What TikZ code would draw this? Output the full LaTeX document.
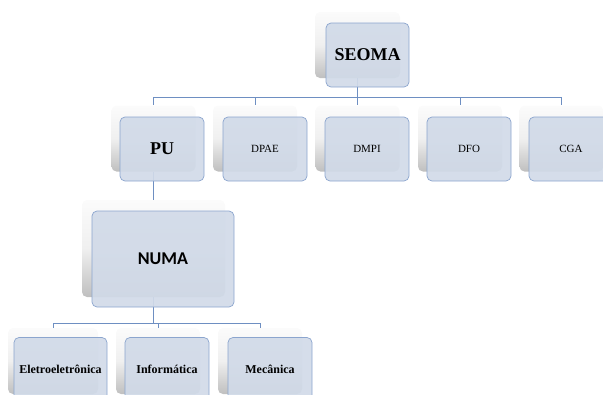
\documentclass[tikz,border=0pt]{standalone}
\usepackage{fontspec}
\setmainfont{Liberation Serif}
\newfontfamily\calfont{Carlito}
\definecolor{boxfill}{HTML}{D1DAE8}
\definecolor{boxline}{HTML}{8BA5CE}
\definecolor{linkcol}{HTML}{6E8FC2}
\tikzset{
  backbox/.style={rounded corners=5pt, inner sep=0pt, top color=gray!3, bottom color=gray!50,
    middle color=gray!12, draw=none},
  frontbox/.style={rounded corners=5pt, inner sep=0pt, fill=boxfill, fill opacity=0.92,
    text opacity=1, draw=boxline, line width=0.7pt},
  conn/.style={draw=linkcol, line width=0.8pt},
  bigl/.style={font=\fontsize{18}{20}\selectfont\bfseries},
  smalll/.style={font=\fontsize{11}{13}\selectfont},
  leafl/.style={font=\fontsize{12}{14}\selectfont\bfseries},
}
\begin{document}
\begin{tikzpicture}[x=1pt,y=-1pt]
\useasboundingbox (0,0) rectangle (603,394);
\clip (0,0) rectangle (603,394);

% bus levels
\coordinate (busA) at (0,97.5);
\coordinate (busB) at (0,323);

% shadow (back) boxes, used as connector anchors
\node[backbox, minimum width=85pt, minimum height=66pt] (seomaB) at (357.5,45) {};
\node[backbox, minimum width=84pt, minimum height=66pt] (puB) at (153.5,138.5) {};
\node[backbox, minimum width=84pt, minimum height=66pt] (dpaeB) at (255,138.5) {};
\node[backbox, minimum width=84pt, minimum height=66pt] (dmpiB) at (357.5,138.5) {};
\node[backbox, minimum width=84pt, minimum height=66pt] (dfoB) at (460,138.5) {};
\node[backbox, minimum width=84pt, minimum height=66pt] (cgaB) at (561.5,138.5) {};
\node[backbox, minimum width=143pt, minimum height=97pt] (numaB) at (153.5,248.5) {};
\node[backbox, minimum width=90pt, minimum height=66pt] (eleB) at (53,361) {};
\node[backbox, minimum width=84pt, minimum height=66pt] (infB) at (158,361) {};
\node[backbox, minimum width=84pt, minimum height=66pt] (mecB) at (260,361) {};

% elbow connectors between the shadow boxes
\foreach \c in {puB,dpaeB,dmpiB,dfoB,cgaB}
  \draw[conn] (seomaB.south) -- (seomaB.south |- busA) -| (\c.north);
\draw[conn] (puB.south) -- (numaB.north);
\foreach \c in {eleB,infB,mecB}
  \draw[conn] (numaB.south) -- (numaB.south |- busB) -| (\c.north);

% front boxes with labels
\node[frontbox, bigl, minimum width=83pt, minimum height=64pt] (seoma) at (367.5,55) {SEOMA};
\node[frontbox, bigl, minimum width=84pt, minimum height=64pt] (pu) at (162,149) {PU};
\node[frontbox, smalll, minimum width=84pt, minimum height=64pt] (dpae) at (265,149) {DPAE};
\node[frontbox, smalll, minimum width=84pt, minimum height=64pt] (dmpi) at (367,149) {DMPI};
\node[frontbox, smalll, minimum width=84pt, minimum height=64pt] (dfo) at (469,149) {DFO};
\node[frontbox, smalll, minimum width=84pt, minimum height=64pt] (cga) at (571,149) {CGA};
\node[frontbox, font=\calfont\fontsize{18}{20}\selectfont\bfseries, minimum width=142pt, minimum height=96pt] (numa) at (163,259) {NUMA};
\node[frontbox, leafl, minimum width=93pt, minimum height=64pt] (ele) at (60.5,369.5) {Eletroeletrônica};
\node[frontbox, leafl, minimum width=84pt, minimum height=64pt] (inf) at (167,369.5) {Informática};
\node[frontbox, leafl, minimum width=84pt, minimum height=64pt] (mec) at (270,369.5) {Mecânica};
\end{tikzpicture}
\end{document}
